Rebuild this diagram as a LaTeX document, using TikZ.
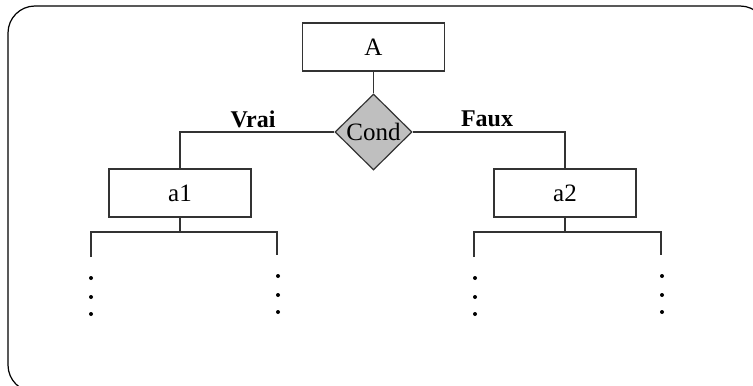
\documentclass[tikz,border=0pt]{standalone}
\usepackage{fontspec}
\setmainfont{Liberation Serif}
\usetikzlibrary{shapes.geometric}

\begin{document}
\begin{tikzpicture}[x=0.5pt, y=-0.5pt,
  box/.style={draw=black!80, line width=0.6pt, minimum width=71pt, minimum height=24pt, inner sep=0pt, font=\fontsize{12.5}{15}\selectfont},
  cond/.style={diamond, draw=black!80, fill=black!25, line width=0.6pt, minimum width=38.5pt, minimum height=38pt, inner sep=0pt, font=\fontsize{12.5}{15}\selectfont},
  flag/.style={font=\bfseries\fontsize{12}{14}\selectfont},
  branch/.style={draw=black!80, line width=0.6pt}
]
\clip (0,0) rectangle (753,385);
\draw[line width=0.6pt, rounded corners=13.5pt] (8,6) rectangle (767,392);

\node[box] (A) at (373.5,47) {A};
\node[cond] (C) at (373.5,132) {Cond};
\node[box] (a1) at (180,193) {a1};
\node[box] (a2) at (565,193) {a2};
\node[flag] (vrai) at (253,119) {Vrai};
\node[flag] (faux) at (487,119) {Faux};

\draw[branch] (A) -- (C);
\draw[branch] (C.west) -| (a1.north);
\draw[branch] (C.east) -| (a2.north);

\coordinate (a1j) at (180,232);
\coordinate (a1l) at (91,257);
\coordinate (a1r) at (277,255);
\coordinate (a2j) at (565,232);
\coordinate (a2l) at (474,257);
\coordinate (a2r) at (661,255);
\draw[branch] (a1) -- (a1j);
\draw[branch] (a1l) |- (a1j) -| (a1r);
\draw[branch] (a2) -- (a2j);
\draw[branch] (a2l) |- (a2j) -| (a2r);

\foreach \x/\s in {91/0,278/-2,475/0,662/-2}
  \foreach \y in {278,297,314}
    \fill (\x,\y+\s) circle (1pt);
\end{tikzpicture}
\end{document}
